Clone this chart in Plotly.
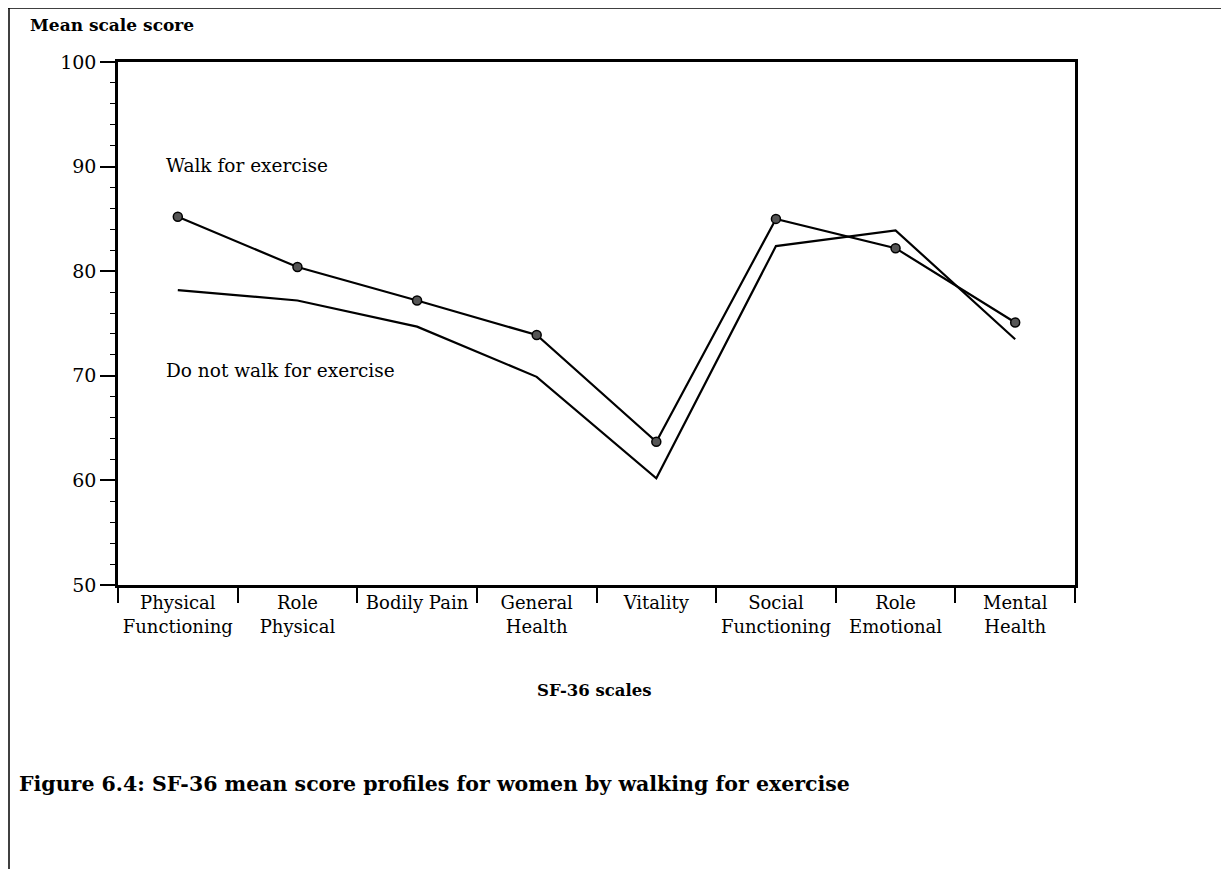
import plotly.graph_objects as go

SCALES = ['Physical<br>Functioning', 'Role<br>Physical', 'Bodily Pain', 'General<br>Health',
          'Vitality', 'Social<br>Functioning', 'Role<br>Emotional', 'Mental<br>Health']
WALK = [85.2, 80.4, 77.2, 73.9, 63.7, 85.0, 82.2, 75.1]
NO_WALK = [78.2, 77.2, 74.7, 69.9, 60.2, 82.4, 83.9, 73.5]

FONT = 'DejaVu Serif'
W, H = 1229, 869
PAGE = 8  # body margin of the html page
L, R, T, B = 118, 1075, 62, 585   # plot area in window pixels


def px_x(x):
    return (x - L) / (R - L)


def px_y(y):
    return (B - y) / (B - T)


fig = go.Figure()

fig.add_trace(go.Scatter(
    x=SCALES, y=WALK, mode='lines+markers', name='Walk for exercise',
    line=dict(color='black', width=2.2),
    marker=dict(size=9, color='#555555', line=dict(color='black', width=1.5))
))
fig.add_trace(go.Scatter(
    x=SCALES, y=NO_WALK, mode='lines', name='Do not walk for exercise',
    line=dict(color='black', width=2.2)
))

fig.update_layout(
    width=W - PAGE, height=H - PAGE,
    plot_bgcolor='white', paper_bgcolor='white',
    font=dict(family=FONT, color='black', size=19),
    showlegend=False,
    margin=dict(l=L - PAGE, r=W - R, t=T - PAGE, b=H - B, pad=0),
    xaxis=dict(
        type='category', range=[-0.5, 7.5], tickson='boundaries',
        ticks='outside', ticklen=15, tickwidth=1.5, tickcolor='black',
        showline=True, linecolor='black', linewidth=2.5, mirror=True,
        showgrid=False, zeroline=False,
        tickfont=dict(family=FONT, size=18, color='black'),
    ),
    yaxis=dict(
        range=[50, 100], tickvals=[50, 60, 70, 80, 90, 100],
        ticks='outside', ticklen=15, tickwidth=1.5, tickcolor='black',
        minor=dict(dtick=2, ticks='outside', ticklen=5, tickwidth=1, tickcolor='black'),
        showline=True, linecolor='black', linewidth=2.5, mirror=True,
        showgrid=False, zeroline=False,
        tickfont=dict(family=FONT, size=19, color='black'),
    ),
)

annotations = [
    dict(text='<b>Mean scale score</b>', x=px_x(28), y=px_y(25), xanchor='left', yanchor='middle',
         font=dict(size=17)),
    dict(text='Walk for exercise', x=px_x(164), y=px_y(165), xanchor='left', yanchor='middle',
         font=dict(size=18.5)),
    dict(text='Do not walk for exercise', x=px_x(164), y=px_y(370), xanchor='left', yanchor='middle',
         font=dict(size=18.5)),
    dict(text='<b>SF-36 scales</b>', x=px_x(594), y=px_y(690), xanchor='center', yanchor='middle',
         font=dict(size=16.5)),
    dict(text='<b>Figure 6.4: SF-36 mean score profiles for women by walking for exercise</b>',
         x=px_x(17), y=px_y(784), xanchor='left', yanchor='middle', font=dict(size=20.5)),
]
for a in annotations:
    a.update(xref='paper', yref='paper', showarrow=False)
fig.update_layout(annotations=annotations)

# page frame: top rule and left rule
fig.add_shape(type='line', xref='paper', yref='paper', x0=px_x(8), x1=px_x(W), y0=px_y(8), y1=px_y(8),
              line=dict(color='black', width=1.5))
fig.add_shape(type='line', xref='paper', yref='paper', x0=px_x(9), x1=px_x(9), y0=px_y(8), y1=px_y(H),
              line=dict(color='black', width=1.5))

fig.write_html('out.html')
